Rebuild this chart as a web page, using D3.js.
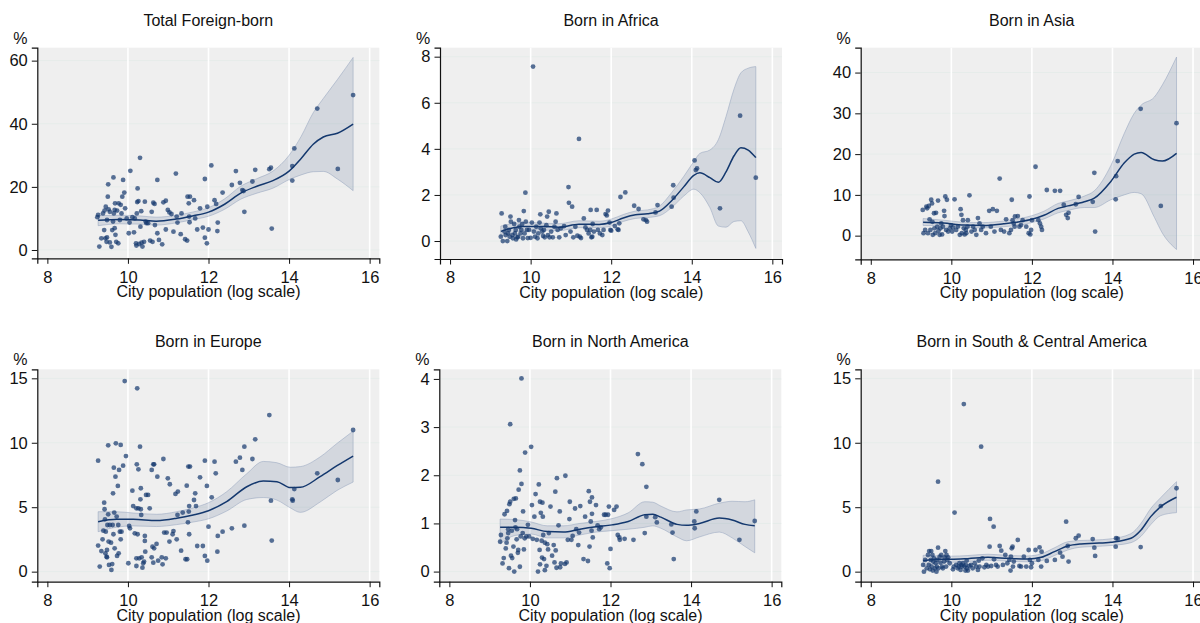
<!DOCTYPE html>
<html>
<head>
<meta charset="utf-8">
<script src="https://cdn.jsdelivr.net/npm/d3@7"></script>
<style>
  body { margin: 0; background: #fff; }
  text { font-family: "Liberation Sans", Arial, sans-serif; fill: #111; }
  .title { font-size: 16px; }
  .axis-title { font-size: 16px; }
</style>
</head>
<body>
<div id="chart"></div>
<script>
// Titles and tick values
const panelTitles = ["Total Foreign-born", "Born in Africa", "Born in Asia",
                     "Born in Europe", "Born in North America", "Born in South & Central America"];
const xTicks = [8, 10, 12, 14, 16];
const xGrid = [10, 12, 14, 16];
const yTicksTotal = [0, 20, 40, 60];
const yTicksAfrica = [0, 2, 4, 6, 8];
const yTicksAsia = [0, 10, 20, 30, 40];
const yTicksEurope = [0, 5, 10, 15];
const yTicksNorthAm = [0, 1, 2, 3, 4];
const yTicksSouthAm = [0, 5, 10, 15];

// Scatter points: [log city population, %]
const totalPts = [[9.26,11.1],[9.24,10.4],[9.29,1.1],[9.34,3.7],[9.38,11.6],[9.42,12.5],[9.45,13.7],[9.41,6.3],[9.44,3.7],[9.47,2.6],
  [9.48,4.0],[9.50,16.9],[9.51,20.8],[9.48,9.5],[9.52,12.9],[9.55,12.1],[9.55,2.4],[9.59,1.0],[9.61,6.3],[9.63,9.0],
  [9.64,23.0],[9.65,11.6],[9.67,12.7],[9.68,14.8],[9.67,6.9],[9.69,4.8],[9.71,2.6],[9.73,12.5],[9.76,2.1],[9.77,14.8],
  [9.80,9.5],[9.82,14.3],[9.84,11.6],[9.86,16.9],[9.88,22.2],[9.91,18.2],[9.93,13.2],[9.97,10.0],[10.02,5.3],[10.04,8.7],
  [10.06,25.1],[10.11,10.4],[10.15,5.6],[10.17,10.0],[10.20,2.1],[10.21,1.4],[10.22,11.6],[10.23,15.2],[10.24,19.5],[10.26,15.5],
  [10.28,1.9],[10.30,29.2],[10.31,7.4],[10.33,12.3],[10.34,2.3],[10.36,1.1],[10.40,2.6],[10.42,15.3],[10.44,9.0],[10.46,8.5],
  [10.50,8.5],[10.55,3.0],[10.59,12.1],[10.61,2.6],[10.63,15.0],[10.66,14.6],[10.67,7.9],[10.73,22.2],[10.73,5.3],[10.77,3.2],
  [10.85,1.8],[10.88,15.1],[10.94,15.6],[10.94,6.5],[10.99,12.7],[11.03,11.9],[11.08,11.4],[11.13,5.8],[11.19,24.2],[11.21,10.6],
  [11.23,8.7],[11.31,5.0],[11.33,11.6],[11.42,3.4],[11.47,3.0],[11.48,16.9],[11.51,14.8],[11.54,16.9],[11.52,10.6],[11.53,8.8],
  [11.64,15.8],[11.67,10.0],[11.72,6.5],[11.79,13.2],[11.86,7.1],[11.91,3.9],[11.91,22.5],[11.96,2.1],[11.97,13.7],[12.00,6.5],
  [12.07,26.8],[12.15,15.8],[12.19,14.6],[12.23,8.7],[12.22,6.0],[12.35,18.2],[12.58,20.6],[12.68,25.0],[12.78,21.3],[12.84,19.0],
  [12.87,18.7],[12.89,12.1],[13.09,21.7],[13.16,25.4],[13.51,25.6],[13.55,26.1],[13.57,6.8],[14.08,26.6],[14.08,22.0],[14.13,32.2],
  [14.70,44.8],[15.21,25.7],[15.59,49.1]];

const africaPts = [[9.26,0.19],[9.28,1.20],[9.31,0.0],[9.35,0.41],[9.37,0.62],[9.38,0.26],[9.42,0.0],[9.44,0.33],[9.46,0.48],[9.48,0.19],
  [9.50,1.06],[9.51,0.84],[9.55,0.26],[9.56,0.12],[9.59,0.74],[9.61,0.33],[9.63,0.48],[9.64,0.07],[9.67,0.16],[9.69,0.19],
  [9.71,0.91],[9.72,0.62],[9.75,0.33],[9.77,0.48],[9.79,0.74],[9.81,0.12],[9.83,1.30],[9.85,0.33],[9.87,2.10],[9.88,0.84],
  [9.91,0.48],[9.93,0.13],[9.96,0.48],[10.00,0.14],[10.03,0.80],[10.06,7.57],[10.08,0.41],[10.11,0.19],[10.14,0.62],[10.17,0.12],
  [10.19,0.33],[10.22,0.80],[10.24,1.16],[10.25,0.55],[10.29,0.41],[10.31,0.22],[10.33,0.48],[10.35,0.16],[10.39,0.69],[10.41,1.06],
  [10.43,0.26],[10.45,1.27],[10.47,0.16],[10.51,0.41],[10.55,0.16],[10.59,0.62],[10.62,0.84],[10.64,1.20],[10.67,0.48],[10.71,0.16],
  [10.75,0.55],[10.83,0.65],[10.87,0.26],[10.94,2.34],[10.95,1.66],[10.99,0.41],[11.03,1.49],[11.06,0.16],[11.11,0.62],[11.16,0.23],
  [11.20,4.43],[11.22,0.19],[11.25,0.13],[11.32,0.98],[11.36,0.59],[11.40,0.48],[11.44,0.33],[11.48,0.48],[11.49,1.35],[11.51,0.16],
  [11.53,0.19],[11.54,0.74],[11.57,0.41],[11.64,1.35],[11.67,0.48],[11.72,0.33],[11.78,0.26],[11.81,0.48],[11.86,1.17],[11.89,1.11],
  [11.92,1.32],[11.96,0.80],[11.98,0.48],[12.00,0.45],[12.09,0.65],[12.16,0.51],[12.20,0.77],[12.18,0.48],[12.23,1.91],[12.35,2.11],
  [12.57,1.53],[12.68,1.39],[12.80,0.94],[12.86,0.91],[12.89,0.84],[13.15,1.56],[13.10,1.24],[13.50,1.49],[13.54,2.42],[13.55,1.88],
  [14.07,3.50],[14.10,3.08],[14.13,3.15],[14.70,1.42],[15.20,5.44],[15.59,2.75]];

const asiaPts = [[9.29,6.3],[9.31,0.6],[9.35,1.4],[9.38,7.1],[9.40,6.7],[9.42,0.6],[9.44,7.3],[9.46,4.0],[9.48,1.4],[9.50,8.8],
  [9.52,7.9],[9.53,3.4],[9.54,0.2],[9.57,5.5],[9.58,1.8],[9.60,0.6],[9.62,5.6],[9.65,2.2],[9.67,8.6],[9.68,1.2],
  [9.71,0.2],[9.73,1.8],[9.75,3.0],[9.77,0.3],[9.79,2.2],[9.82,6.1],[9.83,4.8],[9.85,9.6],[9.87,1.4],[9.89,8.8],
  [9.92,1.0],[9.96,1.8],[9.99,2.6],[10.02,1.0],[10.04,2.0],[10.08,8.9],[10.12,1.4],[10.16,2.2],[10.21,0.2],[10.23,6.5],
  [10.25,5.1],[10.26,0.6],[10.29,3.8],[10.31,1.8],[10.33,0.3],[10.36,1.4],[10.37,0.6],[10.40,2.2],[10.41,3.8],[10.45,9.9],
  [10.50,1.0],[10.54,2.2],[10.58,1.4],[10.62,0.2],[10.66,4.3],[10.70,3.0],[10.74,1.4],[10.78,2.2],[10.86,0.6],[10.94,6.1],
  [10.98,2.2],[11.03,6.5],[11.07,1.0],[11.13,6.1],[11.20,14.0],[11.23,1.4],[11.31,1.0],[11.36,4.0],[11.44,0.6],[11.48,1.4],
  [11.50,8.8],[11.52,3.8],[11.55,3.0],[11.57,2.2],[11.58,4.7],[11.65,4.8],[11.69,2.2],[11.73,2.6],[11.77,3.8],[11.86,2.2],
  [11.92,0.6],[11.94,9.6],[11.96,0.3],[11.98,1.4],[12.00,3.8],[12.09,16.9],[12.16,3.8],[12.20,3.0],[12.23,2.2],[12.25,1.4],
  [12.37,11.2],[12.57,11.0],[12.70,11.0],[12.79,7.6],[12.85,5.1],[12.89,4.3],[12.91,5.6],[13.09,7.7],[13.16,9.5],[13.51,8.3],
  [13.55,15.4],[13.57,1.0],[14.08,8.9],[14.09,14.6],[14.13,18.3],[14.70,31.1],[15.20,7.3],[15.59,27.6]];

const europePts = [[9.26,8.61],[9.26,2.02],[9.30,0.39],[9.34,1.60],[9.37,2.51],[9.39,3.18],[9.41,5.35],[9.42,4.84],[9.43,4.06],[9.44,1.42],
  [9.45,3.10],[9.47,1.16],[9.48,1.11],[9.48,1.68],[9.49,3.62],[9.51,9.80],[9.51,4.45],[9.52,2.33],[9.53,0.52],[9.55,3.62],
  [9.58,2.25],[9.59,0.13],[9.61,0.59],[9.62,3.62],[9.63,6.08],[9.64,2.90],[9.65,8.07],[9.66,4.58],[9.67,1.81],[9.69,7.37],
  [9.70,9.96],[9.72,4.27],[9.73,1.22],[9.75,6.65],[9.76,3.62],[9.77,1.42],[9.78,7.89],[9.80,3.10],[9.82,9.83],[9.82,2.51],
  [9.84,3.10],[9.88,8.22],[9.92,14.79],[9.95,8.97],[10.01,0.65],[10.03,3.54],[10.05,3.36],[10.11,6.28],[10.13,5.09],[10.17,2.97],
  [10.21,4.91],[10.21,1.03],[10.21,0.44],[10.22,8.33],[10.23,14.22],[10.24,2.90],[10.26,7.94],[10.26,4.91],[10.28,1.03],[10.30,9.70],
  [10.31,5.61],[10.32,6.47],[10.32,4.84],[10.33,4.40],[10.34,1.11],[10.36,0.31],[10.38,0.65],[10.40,0.78],[10.42,2.77],[10.42,2.38],
  [10.43,1.55],[10.45,5.95],[10.50,5.95],[10.54,4.91],[10.59,7.89],[10.59,1.11],[10.61,1.94],[10.63,8.33],[10.65,8.33],[10.63,0.70],
  [10.65,1.81],[10.71,2.15],[10.73,7.37],[10.75,0.85],[10.84,1.11],[10.86,0.57],[10.88,8.74],[10.90,3.03],[10.94,1.03],[10.96,3.03],
  [10.99,7.24],[11.03,2.33],[11.04,6.78],[11.11,2.90],[11.13,3.15],[11.18,6.03],[11.21,2.51],[11.23,4.40],[11.24,6.21],[11.32,1.63],
  [11.36,4.58],[11.43,0.96],[11.47,0.96],[11.46,6.67],[11.49,3.83],[11.50,8.15],[11.51,4.66],[11.52,2.90],[11.52,5.09],[11.54,8.15],
  [11.64,5.56],[11.67,6.08],[11.69,5.09],[11.72,1.99],[11.79,7.32],[11.86,1.99],[11.91,8.61],[11.91,1.22],[11.96,6.65],[11.97,0.85],
  [12.00,3.49],[12.08,5.77],[12.15,8.53],[12.18,7.63],[12.22,1.55],[12.23,2.77],[12.35,3.10],[12.58,3.36],[12.68,8.53],[12.78,8.84],
  [12.84,7.89],[12.89,9.70],[12.89,3.57],[13.09,8.74],[13.16,10.27],[13.51,12.15],[13.55,5.51],[13.57,2.41],[14.08,5.61],[14.09,5.51],
  [14.13,6.41],[14.70,7.63],[15.21,7.11],[15.59,10.99]];

const northAmPts = [[9.26,0.62],[9.28,0.76],[9.32,0.17],[9.35,0.28],[9.37,1.19],[9.40,0.48],[9.42,0.60],[9.43,1.26],[9.44,0.69],[9.46,0.88],
  [9.46,0.80],[9.48,0.07],[9.49,1.40],[9.51,1.45],[9.51,3.06],[9.53,0.33],[9.55,0.85],[9.56,0.28],[9.59,0.52],[9.60,1.51],
  [9.61,0.00],[9.63,1.07],[9.64,0.92],[9.65,1.52],[9.67,0.67],[9.68,0.88],[9.70,0.39],[9.71,0.45],[9.72,1.70],[9.75,2.10],
  [9.75,0.10],[9.77,0.73],[9.79,4.01],[9.79,1.82],[9.82,0.80],[9.83,1.25],[9.85,0.46],[9.87,0.69],[9.88,2.47],[9.91,0.73],
  [9.95,0.97],[9.98,0.73],[10.03,2.59],[10.05,1.38],[10.07,0.68],[10.11,1.14],[10.14,1.61],[10.17,0.66],[10.20,0.00],[10.22,1.81],
  [10.24,0.45],[10.25,0.15],[10.25,1.45],[10.27,1.22],[10.29,0.64],[10.30,0.29],[10.31,1.43],[10.32,1.14],[10.33,0.76],[10.35,0.26],
  [10.37,0.03],[10.37,0.60],[10.41,0.12],[10.43,0.57],[10.45,0.46],[10.47,0.80],[10.51,1.35],[10.55,0.33],[10.59,0.55],[10.61,0.19],
  [10.63,1.66],[10.64,0.44],[10.66,0.08],[10.67,1.94],[10.71,0.96],[10.74,1.25],[10.75,0.09],[10.77,0.17],[10.87,0.16],[10.88,1.99],
  [10.91,0.19],[10.94,0.66],[10.98,1.09],[10.99,1.45],[11.03,0.66],[11.06,0.74],[11.12,1.31],[11.15,0.88],[11.20,0.55],[11.22,0.81],
  [11.25,1.36],[11.33,0.26],[11.37,1.14],[11.44,0.22],[11.46,1.67],[11.48,0.52],[11.49,1.45],[11.51,1.04],[11.53,0.85],[11.54,1.54],
  [11.54,1.20],[11.56,0.71],[11.64,1.38],[11.68,0.96],[11.72,0.88],[11.76,0.92],[11.84,1.18],[11.88,1.18],[11.92,0.17],[11.94,1.18],
  [11.96,1.35],[11.98,0.07],[12.00,0.47],[12.09,1.28],[12.15,1.35],[12.18,0.76],[12.22,0.71],[12.23,0.66],[12.35,0.68],[12.57,0.66],
  [12.68,2.44],[12.79,2.23],[12.85,0.80],[12.89,1.76],[12.89,1.14],[13.11,1.13],[13.15,1.02],[13.51,0.98],[13.54,0.81],[13.57,0.26],
  [14.08,1.04],[14.09,0.90],[14.13,1.25],[14.70,1.49],[15.20,0.66],[15.58,1.05]];

const southAmPts = [[9.30,0.52],[9.32,0.0],[9.35,0.91],[9.39,0.26],[9.42,1.29],[9.44,0.52],[9.45,1.60],[9.47,0.18],[9.49,0.91],[9.50,1.60],
  [9.51,0.39],[9.53,1.29],[9.54,0.08],[9.55,0.78],[9.57,1.03],[9.59,0.26],[9.61,0.65],[9.63,0.0],[9.64,0.39],[9.65,0.91],
  [9.67,6.98],[9.67,1.86],[9.68,0.26],[9.71,1.16],[9.73,0.70],[9.75,1.29],[9.77,0.39],[9.79,0.26],[9.82,0.78],[9.83,1.11],
  [9.85,1.60],[9.87,0.39],[9.88,1.29],[9.90,0.91],[9.92,1.11],[9.96,0.65],[10.04,0.18],[10.06,0.39],[10.08,4.58],[10.12,0.52],
  [10.16,0.26],[10.18,0.39],[10.20,0.65],[10.23,0.13],[10.25,0.52],[10.26,0.39],[10.29,0.65],[10.31,13.0],[10.33,0.39],[10.35,0.08],
  [10.36,0.52],[10.38,0.85],[10.39,0.26],[10.41,0.08],[10.45,0.44],[10.49,0.52],[10.53,0.26],[10.58,0.65],[10.62,0.39],[10.66,0.13],
  [10.68,0.85],[10.70,0.39],[10.74,9.70],[10.77,1.03],[10.82,0.34],[10.87,0.52],[10.91,0.39],[10.95,1.94],[10.96,4.09],[10.99,0.44],
  [11.05,3.49],[11.06,0.96],[11.11,0.52],[11.15,0.39],[11.20,1.99],[11.24,1.63],[11.28,0.52],[11.34,1.29],[11.39,0.65],[11.44,0.91],
  [11.47,0.08],[11.48,1.16],[11.50,1.81],[11.52,1.94],[11.53,0.39],[11.55,0.78],[11.65,2.46],[11.69,0.44],[11.73,0.39],[11.80,1.16],
  [11.86,0.39],[11.92,1.68],[11.95,0.91],[11.98,0.34],[12.00,0.65],[12.09,1.68],[12.16,0.91],[12.19,1.89],[12.23,0.39],[12.24,1.55],
  [12.37,0.83],[12.57,0.91],[12.70,1.47],[12.76,1.16],[12.85,3.88],[12.89,1.99],[12.91,0.78],[13.09,2.59],[13.16,2.79],[13.51,2.53],
  [13.55,1.86],[13.57,1.22],[14.08,1.94],[14.09,2.59],[14.13,2.56],[14.70,1.91],[15.20,5.09],[15.59,6.47]];

// Smoothed fit with confidence band: [x, fit, lower, upper]
const totalFit = [[9.26,9.4,7.7,10.9],[9.8,9.7,8.3,11.0],[10.3,9.5,8.2,10.8],[10.7,9.1,7.9,10.4],[11.2,9.8,8.6,11.0],
  [11.6,10.8,9.6,12.0],[12.0,12.0,10.7,13.4],[12.4,14.5,12.9,16.2],[12.8,18.0,16.1,20.2],[13.2,20.2,18.0,22.6],
  [13.6,22.0,19.6,25.0],[14.0,25.0,22.3,30.0],[14.3,29.0,23.8,36.0],[14.6,33.5,24.8,43.5],[14.85,35.8,24.9,48.0],
  [15.2,37.0,22.5,54.0],[15.59,39.9,18.8,61.0]];

const africaFit = [[9.26,0.42,0.2,0.65],[9.8,0.63,0.45,0.8],[10.3,0.63,0.48,0.78],[10.7,0.6,0.45,0.75],[11.2,0.73,0.58,0.88],
  [11.7,0.72,0.58,0.86],[12.0,0.80,0.65,0.95],[12.3,1.0,0.85,1.15],[12.6,1.14,0.98,1.3],[12.9,1.18,1.02,1.35],
  [13.2,1.3,1.1,1.52],[13.5,1.75,1.45,2.1],[13.8,2.35,1.95,2.8],[14.05,2.85,2.25,3.45],[14.2,2.96,2.1,3.8],
  [14.45,2.75,1.45,3.95],[14.66,2.55,0.65,4.4],[14.85,3.0,0.6,5.4],[15.05,3.7,0.85,6.6],[15.22,4.05,0.88,7.3],
  [15.4,3.95,0.4,7.5],[15.59,3.62,-0.32,7.57]];

const asiaFit = [[9.3,3.3,2.5,4.2],[9.8,3.1,2.4,3.8],[10.3,2.6,2.0,3.3],[10.8,2.5,1.9,3.2],[11.3,2.9,2.2,3.6],
  [11.7,3.4,2.6,4.2],[12.0,4.0,3.2,4.9],[12.3,5.0,4.1,6.0],[12.65,6.7,5.6,7.9],[12.9,7.3,6.2,8.5],
  [13.3,8.3,6.9,9.7],[13.55,9.2,6.9,11.0],[13.96,13.3,8.8,17.2],[14.29,17.8,10.0,25.0],[14.54,20.0,10.6,30.0],
  [14.71,20.4,10.3,32.0],[15.04,18.6,4.5,34.0],[15.24,18.3,0.6,37.0],[15.59,20.2,-3.4,43.8]];

const europeFit = [[9.26,3.88,3.1,4.65],[9.72,4.06,3.45,4.65],[10.13,4.06,3.55,4.55],[10.71,3.96,3.5,4.45],[11.21,4.14,3.65,4.65],
  [11.62,4.40,3.85,4.95],[12.0,4.73,4.1,5.35],[12.45,5.43,4.7,6.2],[12.95,6.59,5.6,7.6],[13.36,7.03,5.75,8.55],
  [13.70,6.98,5.55,8.45],[14.03,6.52,4.95,8.1],[14.28,6.54,4.6,8.15],[14.77,7.37,5.4,8.9],[15.19,8.22,6.3,9.95],
  [15.59,8.97,6.95,10.9]];

const northAmFit = [[9.26,0.92,0.57,1.09],[9.63,0.92,0.75,1.08],[10.03,0.90,0.78,1.03],[10.43,0.83,0.70,0.95],[10.83,0.82,0.70,0.95],
  [11.24,0.88,0.76,1.0],[11.64,0.93,0.82,1.04],[12.04,0.97,0.85,1.10],[12.44,1.04,0.88,1.22],[12.85,1.18,0.92,1.45],
  [13.05,1.19,0.95,1.44],[13.25,1.13,0.9,1.36],[13.65,0.98,0.72,1.24],[13.89,0.96,0.64,1.28],[14.21,1.0,0.72,1.30],
  [14.70,1.11,0.82,1.42],[15.02,1.07,0.70,1.46],[15.34,0.98,0.52,1.45],[15.58,0.95,0.39,1.49]];

const southAmFit = [[9.30,0.85,0.42,1.27],[9.75,0.96,0.68,1.22],[10.0,0.96,0.72,1.2],[10.41,1.01,0.78,1.25],[10.91,1.11,0.88,1.35],
  [11.40,1.03,0.82,1.26],[11.90,0.98,0.76,1.22],[12.23,1.11,0.85,1.38],[12.56,1.55,1.25,1.85],[12.89,1.99,1.68,2.32],
  [13.22,2.15,1.9,2.42],[13.55,2.20,1.95,2.45],[13.96,2.28,2.03,2.55],[14.46,2.59,2.25,2.95],[14.71,3.23,2.75,3.75],
  [14.95,4.27,3.65,4.9],[15.20,5.04,4.35,5.75],[15.59,5.77,4.58,6.98]];

// Panel layout (page pixels) and y domains
const panels = [
  {title: panelTitles[0], pts: totalPts,   fit: totalFit,   ticks: yTicksTotal,   yDom: [-2.63, 64.1], left: 37.3,  top: 47.7,  bottom: 258.3},
  {title: panelTitles[1], pts: africaPts,  fit: africaFit,  ticks: yTicksAfrica,  yDom: [-0.78, 8.39], left: 440,   top: 47.7,  bottom: 259},
  {title: panelTitles[2], pts: asiaPts,    fit: asiaFit,    ticks: yTicksAsia,    yDom: [-5.8, 46.1],  left: 860.7, top: 47.7,  bottom: 259.3},
  {title: panelTitles[3], pts: europePts,  fit: europeFit,  ticks: yTicksEurope,  yDom: [-0.78, 15.7], left: 37.3,  top: 369.3, bottom: 581.7},
  {title: panelTitles[4], pts: northAmPts, fit: northAmFit, ticks: yTicksNorthAm, yDom: [-0.21, 4.2],  left: 439.3, top: 369.3, bottom: 581.7},
  {title: panelTitles[5], pts: southAmPts, fit: southAmFit, ticks: yTicksSouthAm, yDom: [-0.78, 15.7], left: 860.7, top: 369.3, bottom: 581.7}
];
const plotW = 342;
const navy = "#14386e";
const tickFont = "16.5px";

const svg = d3.select("#chart").append("svg")
    .attr("width", 1200)
    .attr("height", 623);

svg.append("rect").attr("width", 1200).attr("height", 623).attr("fill", "#fff");

panels.forEach(p => {
    const w = plotW, h = p.bottom - p.top;
    const g = svg.append("g").attr("transform", `translate(${p.left},${p.top})`);

    const x = d3.scaleLinear().domain([7.75, 16.24]).range([0, w]);
    const y = d3.scaleLinear().domain(p.yDom).range([h, 0]);

    // plot background
    g.append("rect").attr("width", w).attr("height", h).attr("fill", "#efefef");

    // faint horizontal grid
    g.selectAll(".hgrid").data(p.ticks).join("line")
        .attr("x1", 0).attr("x2", w)
        .attr("y1", d => y(d)).attr("y2", d => y(d))
        .attr("stroke", "#e6ecea").attr("stroke-width", 1);

    // white vertical grid
    g.selectAll(".vgrid").data(xGrid).join("line")
        .attr("x1", d => x(d)).attr("x2", d => x(d))
        .attr("y1", 0).attr("y2", h)
        .attr("stroke", "#fff").attr("stroke-width", 1.6);

    // confidence band
    const area = d3.area()
        .x(d => x(d[0]))
        .y0(d => y(d[2]))
        .y1(d => y(d[3]))
        .curve(d3.curveMonotoneX);
    g.append("path").datum(p.fit)
        .attr("d", area)
        .attr("fill", navy).attr("fill-opacity", 0.13)
        .attr("stroke", "#8fa0bb").attr("stroke-opacity", 0.5).attr("stroke-width", 1);

    // points
    g.selectAll(".pt").data(p.pts).join("circle")
        .attr("cx", d => x(d[0]))
        .attr("cy", d => y(d[1]))
        .attr("r", 2.4)
        .attr("fill", navy).attr("fill-opacity", 0.7);

    // fitted line
    const line = d3.line()
        .x(d => x(d[0]))
        .y(d => y(d[1]))
        .curve(d3.curveMonotoneX);
    g.append("path").datum(p.fit)
        .attr("d", line)
        .attr("fill", "none")
        .attr("stroke", navy).attr("stroke-width", 1.5);

    // axes
    const yAxis = g.append("g")
        .call(d3.axisLeft(y).tickValues(p.ticks).tickSize(5.5).tickPadding(4).tickFormat(d3.format("d")));
    const xAxis = g.append("g")
        .attr("transform", `translate(0,${h})`)
        .call(d3.axisBottom(x).tickValues(xTicks).tickSize(5.5).tickPadding(6.5).tickFormat(d3.format("d")));
    [yAxis, xAxis].forEach(a => {
        a.select(".domain").attr("stroke", "#111").attr("stroke-width", 1.2);
        a.selectAll(".tick line").attr("stroke", "#111");
        a.selectAll(".tick text").attr("fill", "#111")
            .style("font-family", "Liberation Sans, Arial, sans-serif")
            .style("font-size", tickFont);
    });
    xAxis.selectAll(".tick text").attr("dy", "0.75em");

    // titles
    g.append("text").attr("class", "title")
        .attr("x", w / 2).attr("y", -22)
        .attr("text-anchor", "middle")
        .text(p.title);

    g.append("text").attr("class", "axis-title")
        .attr("x", -17).attr("y", -4)
        .attr("text-anchor", "middle")
        .text("%");

    g.append("text").attr("class", "axis-title")
        .attr("x", x(12)).attr("y", h + 39)
        .attr("text-anchor", "middle")
        .text("City population (log scale)");
});
</script>
</body>
</html>
